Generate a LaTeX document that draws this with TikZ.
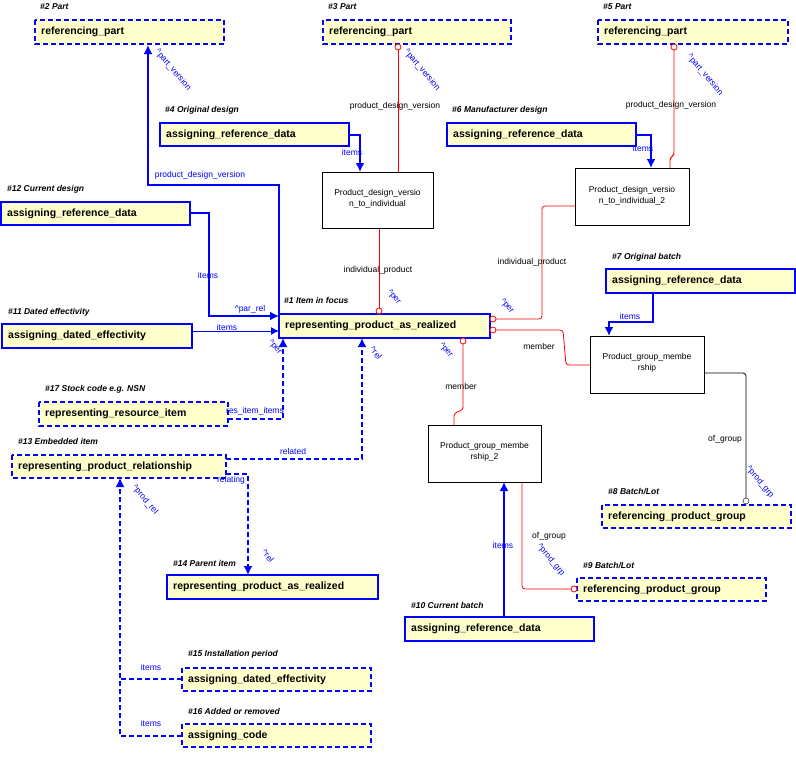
\documentclass[tikz,border=0pt]{standalone}
\usepackage{fontspec}
\setmainfont{Liberation Sans}
\usetikzlibrary{arrows.meta}
\definecolor{fillY}{RGB}{255,255,204}
\definecolor{bl}{RGB}{0,0,255}
\definecolor{rd}{RGB}{255,0,0}
\begin{document}
\begin{tikzpicture}[x=1pt,y=-1pt,
 ent/.style={draw=bl,fill=fillY,line width=2pt},
 dent/.style={draw=bl,fill=fillY,line width=1.5pt,dash pattern=on 5pt off 3pt},
 wbox/.style={draw=black,fill=white,line width=0.8pt},
 etxt/.style={anchor=west,font=\fontsize{10.5}{12}\selectfont\bfseries,inner sep=0pt},
 ttl/.style={anchor=west,font=\fontsize{8.5}{10}\selectfont\bfseries\itshape,inner sep=0pt},
 wtxt/.style={align=center,font=\fontsize{8.5}{10.5}\selectfont,inner sep=0pt},
 lb/.style={font=\fontsize{8.5}{10}\selectfont,text=bl,inner sep=0pt},
 lk/.style={font=\fontsize{8.5}{10}\selectfont,inner sep=0pt},
 rl/.style={lb,rotate=-50},
 sol/.style={draw=bl,line width=2.5pt,-{Latex[length=9pt,width=9pt]}},
 thin/.style={draw=bl,line width=1pt,-{Latex[length=8pt,width=8pt]}},
 dsh/.style={draw=bl,line width=2pt,dash pattern=on 5pt off 3pt,-{Latex[length=9pt,width=9pt]}},
 red/.style={draw=rd,line width=0.8pt,rounded corners=3pt},
 circ/.style={circle,draw=rd,fill=white,minimum size=6pt,inner sep=0pt,line width=0.8pt}]
\useasboundingbox (0,0) rectangle (796,758);
% entity boxes
\newcommand{\ebox}[7]{\path[#1] (#2,#3) rectangle (#4,#5); \node[etxt] (#7) at ({#2+6},{(#3+#5)/2}) {#6};}
\ebox{dent}{35}{20}{224}{44}{referencing\_part}{e2}
\node[ttl] (t2) at (40,7) {\#2 Part};
\ebox{dent}{323}{20}{511}{44}{referencing\_part}{e3}
\node[ttl] (t3) at (328,7) {\#3 Part};
\ebox{dent}{598}{20}{788}{44}{referencing\_part}{e5}
\node[ttl] (t5) at (603,7) {\#5 Part};
\ebox{ent}{160}{123}{349}{146}{assigning\_reference\_data}{e4}
\node[ttl] (t4) at (165,110) {\#4 Original design};
\ebox{ent}{447}{123}{636}{146}{assigning\_reference\_data}{e6}
\node[ttl] (t6) at (452,110) {\#6 Manufacturer design};
\ebox{ent}{1}{202}{190}{225}{assigning\_reference\_data}{e12}
\node[ttl] (t12) at (7,189) {\#12 Current design};
\ebox{ent}{2}{324}{192}{348}{assigning\_dated\_effectivity}{e11}
\node[ttl] (t11) at (8,312) {\#11 Dated effectivity};
\ebox{ent}{279}{314}{490}{338}{representing\_product\_as\_realized}{e1}
\node[ttl] (t1) at (284,300) {\#1 Item in focus};
\ebox{ent}{606}{269}{795}{293}{assigning\_reference\_data}{e7}
\node[ttl] (t7) at (612,257) {\#7 Original batch};
\ebox{dent}{39}{402}{228}{426}{representing\_resource\_item}{e17}
\node[ttl] (t17) at (45,389) {\#17 Stock code e.g. NSN};
\ebox{dent}{12}{455}{226}{478}{representing\_product\_relationship}{e13}
\node[ttl] (t13) at (18,441) {\#13 Embedded item};
\ebox{ent}{167}{575}{378}{599}{representing\_product\_as\_realized}{e14}
\node[ttl] (t14) at (173,563) {\#14 Parent item};
\ebox{dent}{602}{505}{791}{528}{referencing\_product\_group}{e8}
\node[ttl] (t8) at (608,491) {\#8 Batch/Lot};
\ebox{dent}{577}{578}{766}{601}{referencing\_product\_group}{e9}
\node[ttl] (t9) at (583,565) {\#9 Batch/Lot};
\ebox{ent}{405}{617}{594}{641}{assigning\_reference\_data}{e10}
\node[ttl] (t10) at (411,605) {\#10 Current batch};
\ebox{dent}{182}{668}{371}{691}{assigning\_dated\_effectivity}{e15}
\node[ttl] (t15) at (188,654) {\#15 Installation period};
\ebox{dent}{182}{724}{371}{747}{assigning\_code}{e16}
\node[ttl] (t16) at (188,711) {\#16 Added or removed};
% white boxes
\path[wbox] (322,172) rectangle (433,228);
\node[wtxt] (w1) at (377.5,199) {Product\_design\_versio\\n\_to\_individual};
\path[wbox] (575,168) rectangle (689,225);
\node[wtxt] (w2) at (632,196) {Product\_design\_versio\\n\_to\_individual\_2};
\path[wbox] (590,336) rectangle (704,393);
\node[wtxt] (w3) at (647,363) {Product\_group\_membe\\rship};
\path[wbox] (428,425) rectangle (541,482);
\node[wtxt] (w4) at (484.5,452) {Product\_group\_membe\\rship\_2};
% coordinates
\coordinate (a1) at (279,318); \coordinate (a2) at (148,45);
\coordinate (b1) at (190,213); \coordinate (b2) at (279,316);
\coordinate (c1) at (192,331); \coordinate (c2) at (279,331);
\coordinate (d1) at (349,135); \coordinate (d2) at (360,172);
\coordinate (e1) at (636,135); \coordinate (e2) at (651,168);
\coordinate (f1) at (653,293); \coordinate (f2) at (609,336);
\coordinate (g1) at (504,617); \coordinate (g2) at (504,482);
\coordinate (h1) at (228,419); \coordinate (h2) at (283,338);
\coordinate (i1) at (226,459); \coordinate (i2) at (362,338);
\coordinate (j1) at (226,474); \coordinate (j2) at (248,575);
\coordinate (k1) at (182,679); \coordinate (k2) at (182,736); \coordinate (k3) at (120,478);
% blue connectors
\draw[sol] (a1) -- (279,185) -- (148,185) -- (a2);
\draw[sol] (b1) -- (209,213) -- (209,316) -- (b2);
\draw[thin] (c1) -- (c2);
\draw[sol] (d1) -- (360,135) -- (d2);
\draw[sol] (e1) -- (651,135) -- (e2);
\draw[sol] (f1) -- (653,322) -- (609,322) -- (f2);
\draw[sol] (g1) -- (g2);
\draw[dsh,line width=1.3pt] (h1) -- (283,419) -- (h2);
\draw[dsh] (i1) -- (362,459) -- (i2);
\draw[dsh] (j1) -- (248,474) -- (j2);
\draw[draw=bl,line width=1.5pt,dash pattern=on 5pt off 3pt] (k1) -- (120,679);
\draw[dsh,line width=1.5pt] (k2) -- (120,736) -- (k3);
% red connectors
\draw[red] (398,47) -- (398,172);
\node[circ] (r3) at (398,47) {};
\draw[red] (379,228) -- (379,311);
\node[circ] (r1) at (379,311) {};
\draw[red] (674,47) -- (674,155) -- (670,158) -- (670,168);
\node[circ] (r5) at (674,47) {};
\draw[red] (575,206) -- (542,206) -- (542,319) -- (493,319);
\node[circ] (r6) at (493,319) {};
\draw[red] (493,330) -- (563,330) -- (566,365) -- (590,365);
\node[circ] (r7) at (493,330) {};
\draw[red] (463,341) -- (463,410) -- (454,413) -- (454,425);
\node[circ] (r8) at (463,341) {};
\draw[red] (522,482) -- (522,589) -- (574,589);
\node[circ] (r9) at (574,589) {};
\draw[draw=black,line width=0.8pt,rounded corners=3pt] (704,373) -- (746,373) -- (746,501);
\node[circle,draw=black,fill=white,minimum size=6pt,inner sep=0pt] (r10) at (746,501) {};
% labels
\node[lb] (l1) at (200,175) {product\_design\_version};
\node[rl] (l2) at (173,70) {\^{}part\_version};
\node[lb] (l3) at (208,275) {items};
\node[lb] (l4) at (250,309) {\^{}par\_rel};
\node[lb] (l5) at (227,327) {items};
\node[lb] (l6) at (352,152) {items};
\node[lk] (l7) at (395,106) {product\_design\_version};
\node[rl] (l8) at (422,70) {\^{}part\_version};
\node[lk] (l9) at (378,270) {individual\_product};
\node[rl] (l10) at (394,297) {\^{}per};
\node[lb] (l11) at (643,148) {items};
\node[lk] (l12) at (671,105) {product\_design\_version};
\node[rl] (l13) at (705,75) {\^{}part\_version};
\node[lk] (l14) at (532,262) {individual\_product};
\node[rl] (l15) at (507,306) {\^{}per};
\node[lk] (l16) at (539,346) {member};
\node[lb] (l17) at (630,316) {items};
\node[lk] (l18) at (725,439) {of\_group};
\node[rl] (l19) at (760,482) {\^{}prod\_grp};
\node[lk] (l20) at (461,386) {member};
\node[rl] (l21) at (446,350) {\^{}per};
\node[lk] (l22) at (549,536) {of\_group};
\node[rl] (l23) at (551,560) {\^{}prod\_grp};
\node[lb] (l24) at (503,545) {items};
\node[lb] (l25) at (255,411) {res\_item\_items};
\node[rl] (l26) at (275,347) {\^{}per};
\node[lb] (l27) at (293,451) {related};
\node[rl] (l28) at (376,353) {\^{}rel};
\node[lb] (l29) at (231,480) {relating};
\node[rl] (l30) at (268,556) {\^{}rel};
\node[lb] (l31) at (151,667) {items};
\node[lb] (l32) at (151,723) {items};
\node[rl] (l33) at (145,500) {\^{}prod\_rel};
\end{tikzpicture}
\end{document}
